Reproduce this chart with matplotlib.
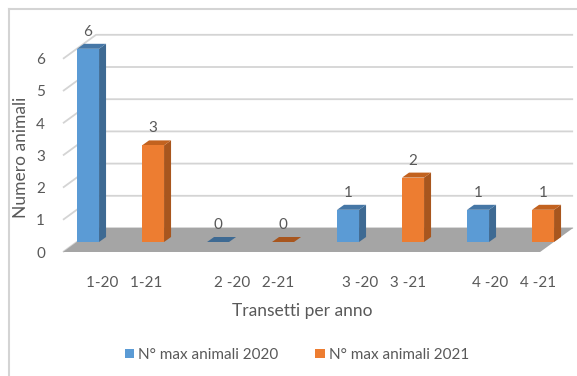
import numpy as np
import matplotlib
matplotlib.use("Agg")
import matplotlib.pyplot as plt
from matplotlib.patches import Polygon, Patch
from matplotlib.lines import Line2D

# ---- data ----
categories = ["1-20   1-21", "2 -20   2-21", "3 -20   3 -21", "4 -20   4 -21"]
series_names = ["N° max animali 2020", "N° max animali 2021"]
values_2020 = [6, 0, 1, 1]
values_2021 = [3, 0, 2, 1]
y_ticks = [0, 1, 2, 3, 4, 5, 6]

# ---- style ----
FRONT = ["#5B9BD5", "#ED7D31"]
SIDE = ["#3E6A93", "#A8561E"]
TOP = ["#4677A6", "#C2621F"]
GRID = "#D4D4D4"
FLOOR = "#A5A5A5"
TXT = "#595959"
FONT = "Lato"

W, H = 577, 376
fig = plt.figure(figsize=(W / 100, H / 100), dpi=100)
fig.patch.set_facecolor("white")

# axes: front plane, x in category units (130 px), y in value units (32.2 px)
ax_left, ax_bottom = 63, 376 - 252
px_x, px_y = 130.0, 32.2
xl, xr = -0.335, 3.335
ymax = 7
ax = fig.add_axes([ax_left / W, ax_bottom / H, (xr - xl) * px_x / W, ymax * px_y / H])
ax.set_xlim(xl, xr)
ax.set_ylim(0, ymax)
for s in ax.spines.values():
    s.set_visible(False)
ax.patch.set_alpha(0)

# depth vectors (data units)
DX, DY = 33 / px_x, 24 / px_y          # full floor depth
bfx, bfy = 14 / px_x, 10 / px_y        # bar front plane offset
bdx, bdy = 7 / px_x, 5 / px_y          # bar depth
bw = 22 / px_x
off = 32.5 / px_x

# gridlines (left wall oblique + back wall)
for k in y_ticks:
    ax.plot([xl, xl + DX, xr + DX], [k, k + DY, k + DY], color=GRID, lw=1.3,
            clip_on=False, zorder=1, solid_capstyle="butt")

# floor
ax.add_patch(Polygon([(xl, 0), (xr, 0), (xr + DX, DY), (xl + DX, DY)],
                     closed=True, facecolor=FLOOR, edgecolor="none", zorder=2,
                     clip_on=False))

x = np.arange(len(categories))
for si, vals in enumerate([values_2020, values_2021]):
    xs = x + (-off if si == 0 else off) + bfx
    bars = ax.bar(xs, vals, width=bw, bottom=bfy, color=FRONT[si], zorder=5,
                  clip_on=False)
    for rect, v in zip(bars, vals):
        x0 = rect.get_x()
        x1 = x0 + rect.get_width()
        y0 = rect.get_y()
        y1 = y0 + rect.get_height()
        if v > 0:
            ax.add_patch(Polygon([(x1, y0), (x1, y1), (x1 + bdx, y1 + bdy), (x1 + bdx, y0 + bdy)],
                                 closed=True, facecolor=SIDE[si], edgecolor="none",
                                 zorder=4, clip_on=False))
        ax.add_patch(Polygon([(x0, y1), (x1, y1), (x1 + bdx, y1 + bdy), (x0 + bdx, y1 + bdy)],
                             closed=True, facecolor=TOP[si] if v > 0 else SIDE[si],
                             edgecolor="none", zorder=4, clip_on=False))
        ax.text((x0 + x1) / 2, y1 + 17 / px_y, f"{v}", ha="center", va="center",
                fontsize=11, color=TXT, family=FONT, zorder=6)

# ticks
ax.set_yticks(y_ticks)
ax.set_yticklabels([str(t) for t in y_ticks], family=FONT, fontsize=11, color=TXT)
ax.set_xticks(x + 18 / px_x)
ax.set_xticklabels(categories, family=FONT, fontsize=11, color=TXT)
ax.tick_params(axis="y", length=0, pad=13)
ax.tick_params(axis="x", length=0, pad=17)

ax.set_xlabel("Transetti per anno", family=FONT, fontsize=12.5, color=TXT)
ax.xaxis.set_label_coords((302 - ax_left) / ((xr - xl) * px_x), -51 / (ymax * px_y))
ax.set_ylabel("Numero animali", family=FONT, fontsize=12.5, color=TXT)
ax.yaxis.set_label_coords((29 - ax_left) / ((xr - xl) * px_x), (252 - 157) / (ymax * px_y))

# legend
handles = [Patch(facecolor=FRONT[0]), Patch(facecolor=FRONT[1])]
fig.legend(handles, series_names, loc="center", bbox_to_anchor=(297 / W, 1 - 355 / H),
           ncol=2, frameon=False, prop={"family": FONT, "size": 11},
           labelcolor=TXT, handlelength=0.6, handleheight=0.6, handletextpad=0.3,
           columnspacing=2.4)

# chart border (top & left visible)
fig.add_artist(Line2D([9 / W, 1.0], [1 - 9 / H, 1 - 9 / H], color=GRID, lw=1.5,
                      transform=fig.transFigure))
fig.add_artist(Line2D([9 / W, 9 / W], [0, 1 - 9 / H], color=GRID, lw=1.5,
                      transform=fig.transFigure))

fig.savefig("out.png", dpi=100)
